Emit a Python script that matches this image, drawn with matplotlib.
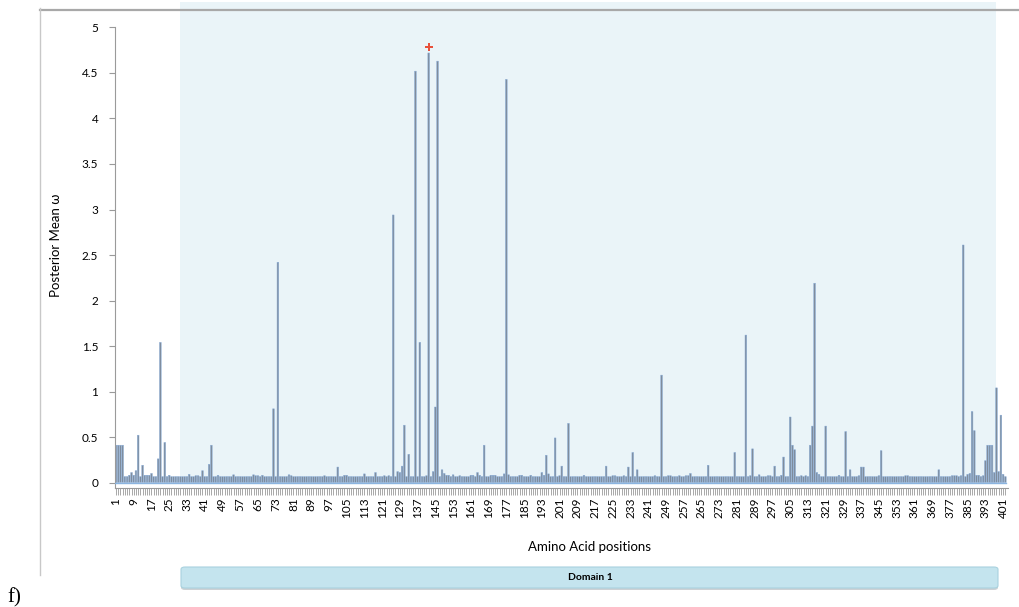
import matplotlib
matplotlib.use("Agg")
import matplotlib.pyplot as plt
from matplotlib.patches import FancyBboxPatch
from matplotlib.lines import Line2D
import numpy as np

plt.rcParams['font.family'] = ['Lato', 'DejaVu Sans']

# posterior mean omega per amino acid position (1..402)
omega = [
    0.41, 0.41, 0.41, 0.41, 0.065, 0.065, 0.08, 0.11, 0.08, 0.13, 0.52, 0.065, 0.19, 0.08, 0.08, 0.08, 0.10, 0.065, 0.065, 0.26,
    1.54, 0.065, 0.44, 0.065, 0.08, 0.065, 0.065, 0.065, 0.065, 0.065, 0.065, 0.065, 0.065, 0.09, 0.065, 0.065, 0.075, 0.075, 0.065, 0.13,
    0.065, 0.065, 0.20, 0.41, 0.065, 0.065, 0.08, 0.065, 0.065, 0.065, 0.065, 0.065, 0.065, 0.085, 0.065, 0.065, 0.065, 0.065, 0.065, 0.065,
    0.065, 0.065, 0.085, 0.075, 0.075, 0.065, 0.08, 0.065, 0.065, 0.065, 0.065, 0.81, 0.065, 2.42, 0.065, 0.065, 0.065, 0.065, 0.085, 0.075,
    0.065, 0.065, 0.065, 0.065, 0.065, 0.065, 0.065, 0.065, 0.065, 0.065, 0.065, 0.065, 0.065, 0.065, 0.075, 0.065, 0.065, 0.065, 0.065, 0.065,
    0.17, 0.065, 0.065, 0.08, 0.08, 0.065, 0.065, 0.065, 0.065, 0.065, 0.065, 0.065, 0.095, 0.065, 0.065, 0.065, 0.065, 0.11, 0.065, 0.065,
    0.065, 0.075, 0.065, 0.075, 0.065, 2.94, 0.065, 0.12, 0.11, 0.18, 0.63, 0.065, 0.31, 0.065, 0.065, 4.52, 0.065, 1.54, 0.065, 0.065,
    0.075, 4.72, 0.065, 0.12, 0.83, 4.63, 0.065, 0.14, 0.10, 0.08, 0.08, 0.065, 0.085, 0.065, 0.065, 0.075, 0.065, 0.065, 0.065, 0.065,
    0.08, 0.08, 0.065, 0.11, 0.08, 0.065, 0.41, 0.065, 0.065, 0.08, 0.08, 0.08, 0.065, 0.065, 0.065, 0.095, 4.43, 0.085, 0.065, 0.065,
    0.065, 0.065, 0.08, 0.08, 0.065, 0.065, 0.065, 0.08, 0.065, 0.065, 0.065, 0.065, 0.11, 0.08, 0.30, 0.095, 0.065, 0.065, 0.49, 0.065,
    0.075, 0.18, 0.065, 0.065, 0.65, 0.065, 0.065, 0.065, 0.065, 0.065, 0.065, 0.08, 0.065, 0.065, 0.065, 0.065, 0.065, 0.065, 0.065, 0.065,
    0.065, 0.18, 0.065, 0.065, 0.075, 0.075, 0.065, 0.065, 0.065, 0.075, 0.065, 0.17, 0.065, 0.33, 0.065, 0.14, 0.065, 0.065, 0.065, 0.065,
    0.065, 0.065, 0.065, 0.075, 0.065, 0.065, 1.18, 0.065, 0.065, 0.075, 0.075, 0.065, 0.065, 0.065, 0.075, 0.065, 0.065, 0.075, 0.075, 0.10,
    0.065, 0.065, 0.065, 0.065, 0.065, 0.065, 0.065, 0.19, 0.065, 0.065, 0.065, 0.065, 0.065, 0.065, 0.065, 0.065, 0.065, 0.065, 0.065, 0.33,
    0.065, 0.065, 0.065, 0.065, 1.62, 0.065, 0.075, 0.37, 0.065, 0.065, 0.085, 0.065, 0.065, 0.065, 0.075, 0.075, 0.065, 0.18, 0.065, 0.065,
    0.08, 0.28, 0.065, 0.065, 0.72, 0.41, 0.36, 0.065, 0.065, 0.075, 0.065, 0.075, 0.065, 0.41, 0.62, 2.19, 0.11, 0.09, 0.065, 0.065,
    0.62, 0.065, 0.065, 0.065, 0.065, 0.065, 0.08, 0.065, 0.065, 0.56, 0.065, 0.14, 0.065, 0.065, 0.065, 0.075, 0.17, 0.17, 0.065, 0.065,
    0.065, 0.065, 0.065, 0.065, 0.075, 0.35, 0.065, 0.065, 0.065, 0.065, 0.065, 0.065, 0.065, 0.065, 0.065, 0.065, 0.075, 0.075, 0.065, 0.065,
    0.065, 0.065, 0.065, 0.065, 0.065, 0.065, 0.065, 0.065, 0.065, 0.065, 0.065, 0.14, 0.065, 0.065, 0.065, 0.065, 0.065, 0.075, 0.075, 0.075,
    0.065, 0.075, 2.61, 0.065, 0.09, 0.10, 0.78, 0.57, 0.08, 0.08, 0.065, 0.075, 0.24, 0.41, 0.41, 0.41, 0.11, 1.04, 0.12, 0.74,
    0.09, 0.065,
]
positions = np.arange(1, len(omega) + 1)

# domain annotation and highlighted site
domain_name = "Domain 1"
domain_start, domain_end = 29.8, 397.9
top_site, top_site_mark = 142, 4.79

fig = plt.figure(figsize=(10.2, 6.07), dpi=100)
ax = fig.add_axes([115/1020, 119/607, 893/1020, 486/607])

ax.fill_between([domain_start, domain_end], 0, 5.4, color='#eaf4f8', zorder=0, lw=0)

ax.bar(positions, omega, width=0.75, color='#7f8c9c', edgecolor='#86abd8', linewidth=0.35, zorder=2, snap=False)
ax.plot([0.6, len(omega) + 0.4], [0, 0], color='#8ab4e0', lw=1.0, zorder=3)
ax.plot(top_site, top_site_mark, marker='P', color='#e8503a', markersize=6, zorder=4, markeredgewidth=0)

ax.set_xlim(0.55, 403.2)
ax.set_ylim(-0.06, 5.28)

ax.set_yticks(np.arange(0, 5.01, 0.5))
ax.set_yticklabels(['0', '0.5', '1', '1.5', '2', '2.5', '3', '3.5', '4', '4.5', '5'])
ax.set_xticks(positions)
ax.set_xticklabels([str(p) if (p - 1) % 8 == 0 else '' for p in positions], rotation=90)
ax.tick_params(axis='x', length=5, width=0.6, color='#9a9a9a', labelsize=8.5, pad=2)
ax.tick_params(axis='y', length=4, width=0.8, color='#9a9a9a', labelsize=8.5, pad=8)

for s in ['top', 'right']:
    ax.spines[s].set_visible(False)
ax.spines['left'].set_color('#9a9a9a')
ax.spines['bottom'].set_color('#9a9a9a')
ax.spines['left'].set_bounds(-0.06, 5.0)

ax.set_ylabel('Posterior Mean ω', fontsize=9.5)
ax.yaxis.set_label_coords(-0.059, 0.5)
fig.text(590/1020, 1 - 547/607, 'Amino Acid positions', fontsize=9.5, ha='center', va='center')

# domain box below the axis
shadow = FancyBboxPatch((181/1020, 1 - 590/607), 817/1020, 21/607, boxstyle='round,pad=0,rounding_size=0.004',
                        transform=fig.transFigure, facecolor='#b8bec2', edgecolor='none', alpha=0.7, zorder=1)
box = FancyBboxPatch((181/1020, 1 - 588/607), 817/1020, 21/607, boxstyle='round,pad=0,rounding_size=0.004',
                     transform=fig.transFigure, facecolor='#c4e4ee', edgecolor='#a9d2df', lw=0.8, zorder=2)
fig.patches.extend([shadow, box])
fig.text(590/1020, 1 - 578/607, domain_name, fontsize=7.5, fontweight='bold', ha='center', va='center')

# frame lines of the panel
fig.lines.append(Line2D([40/1020, 1.0], [1 - 10/607, 1 - 10/607], transform=fig.transFigure, color='#a8a8a8', lw=1.6, zorder=5))
fig.lines.append(Line2D([40/1020, 40/1020], [1 - 8/607, 1 - 575/607], transform=fig.transFigure, color='#c8c8c8', lw=1.0, zorder=5))
fig.text(14/1020, 1 - 598/607, 'f)', fontsize=15, family=['Liberation Serif', 'DejaVu Serif'], ha='center', va='center')

fig.savefig('out.png', dpi=100)
